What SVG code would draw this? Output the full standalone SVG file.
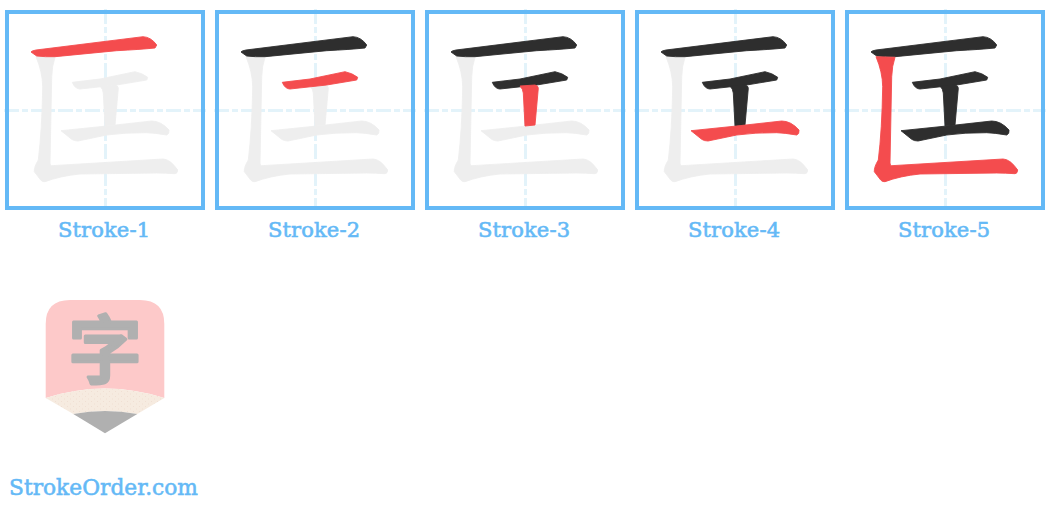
<svg xmlns="http://www.w3.org/2000/svg" width="1050" height="514" viewBox="0 0 1050 514">
<style>
.box{fill:none;stroke:#64b9f6;stroke-width:4}
.g{fill:none;stroke:#e3f3fa;stroke-width:3;stroke-dasharray:15 3 6 3}
.o{fill:#eeeeee;stroke:#eeeeee;stroke-width:.9;stroke-linejoin:round}
.d{fill:#2e2e2e;stroke:#2e2e2e;stroke-width:.9;stroke-linejoin:round}
.r{fill:#f44c4e;stroke:#f44c4e;stroke-width:.9;stroke-linejoin:round}
.lab{font-family:"DejaVu Serif","Liberation Serif",serif;font-size:21px;fill:#64b9f6;stroke:#64b9f6;stroke-width:.6;text-anchor:middle}
</style>
<defs>
<pattern id="dots" width="6" height="5" patternUnits="userSpaceOnUse">
<rect width="6" height="5" fill="#f6ebe0"/>
<rect x="1" y="1" width="1" height="1" fill="#f0dfd3"/>
<rect x="4" y="3.500" width="1" height="1" fill="#f0dfd3"/>
</pattern>
<path id="s1" d="M31 52Q31.500 50.800 36 50L143 36.700Q151 37 156.700 45L155 48Q140 49.500 116.700 50.700L55 56.700Q45 57 36.700 56Z"/>
<path id="s2" d="M72.300 82.300L100 79L135 71.700Q142 73 147.700 77.300L146.700 80L116.700 85L80 89Q75 89 72.300 82.300Z"/>
<path id="s3" d="M100 86L115 85Q118.500 86 118.300 88.300L115 125L105 126L103.300 93Q103 89 100 86Z"/>
<path id="s4" d="M61 130.700L106.700 126L151.700 121Q161 121 169 130Q169.500 134 166.700 135Q155 133 146.700 132.700Q125 132.500 106.700 135L78 141Q74 141 71.700 139.300Z"/>
<path id="s5" d="M36 56.700L55 57.300Q52 66 51.700 76.700L50 163Q50 165.500 51.700 165.700L163 159Q170 159 177.700 170Q177.500 173.500 175 173.700Q165 173 156.700 173L80 174Q60 176 45 181.700Q42 182 40.700 180L34.300 171.700Q34 167 38.300 160Q42 130 42.700 86.700Q42.500 72 36 56.700Z"/>
<g id="grid"><path class="g" d="M105.500 9V207M4 110.500H206"/><rect class="box" x="7" y="12" width="196" height="196"/></g>
</defs>
<g id="stroke-1">
<use href="#grid"/>
<use href="#s2" class="o"/><use href="#s3" class="o"/><use href="#s4" class="o"/><use href="#s5" class="o"/>
<use href="#s1" class="r"/>
<text class="lab" x="104" y="237" textLength="92">Stroke-1</text>
</g>
<g id="stroke-2" transform="translate(210)">
<use href="#grid"/>
<use href="#s3" class="o"/><use href="#s4" class="o"/><use href="#s5" class="o"/>
<use href="#s1" class="d"/><use href="#s2" class="r"/>
<text class="lab" x="104" y="237" textLength="92">Stroke-2</text>
</g>
<g id="stroke-3" transform="translate(420)">
<use href="#grid"/>
<use href="#s4" class="o"/><use href="#s5" class="o"/>
<use href="#s1" class="d"/><use href="#s2" class="d"/><use href="#s3" class="r"/>
<text class="lab" x="104" y="237" textLength="92">Stroke-3</text>
</g>
<g id="stroke-4" transform="translate(630)">
<use href="#grid"/>
<use href="#s5" class="o"/>
<use href="#s1" class="d"/><use href="#s2" class="d"/><use href="#s3" class="d"/><use href="#s4" class="r"/>
<text class="lab" x="104" y="237" textLength="92">Stroke-4</text>
</g>
<g id="stroke-5" transform="translate(840)">
<use href="#grid"/>
<use href="#s1" class="d"/><use href="#s2" class="d"/><use href="#s3" class="d"/><use href="#s4" class="d"/><use href="#s5" class="r"/>
<text class="lab" x="104" y="237" textLength="92">Stroke-5</text>
</g>
<g id="logo">
<path fill="#fdc9c9" d="M45.700 398V324Q45.700 300 70 300H140Q164.300 300 164.300 324V398Q105 379 45.700 398Z"/>
<path fill="url(#dots)" d="M45.700 398Q105 379 164.300 398L137.300 414Q105 408 73.300 414Z"/>
<path fill="#b0b0b0" d="M73.300 414Q105 408 137.300 414L105 433.300Z"/>
<text x="105" y="377" font-family="Noto Sans CJK SC,sans-serif" font-size="74" font-weight="500" fill="#b0b0b0" stroke="#b0b0b0" stroke-width="3" stroke-linejoin="round" text-anchor="middle">字</text>
</g>
<text id="site" x="9" y="495" font-family="DejaVu Serif,Liberation Serif,serif" font-size="23" fill="#64b9f6" stroke="#64b9f6" stroke-width=".6" textLength="189" lengthAdjust="spacingAndGlyphs">StrokeOrder.com</text>
</svg>
